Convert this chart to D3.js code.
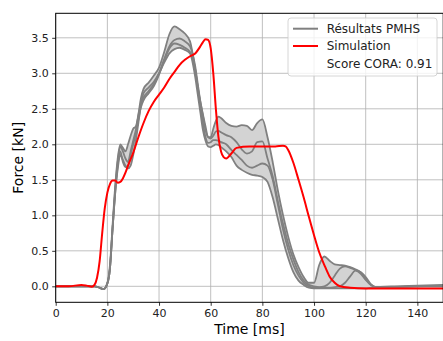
<!DOCTYPE html>
<html><head><meta charset="utf-8">
<script src="https://cdn.jsdelivr.net/npm/d3@7"></script>
<style>body{margin:0;background:#fff}svg{display:block;font-family:"DejaVu Sans",sans-serif}</style>
</head><body><svg id="c" width="443" height="341"></svg>
<script>
// ---- data ----
const pmhsTime = [0,10,15,17,18.5,20,21,22,23,24,25,26,27,28,29,30,31,32,33,34,36,38,40,42,44,46,48,50,52,54,55,56,57,58,59,60,61,62,63,64,66,68,70,72,74,76,78,80,82,84,86,88,90,92,94,96,98,100,102,104,106,108,110,112,114,116,118,120,122,124,130,140,150];
const pmhsA = [0,0,0,-0.02,-0.04,0.05,0.3,0.85,1.4,1.8,2.0,1.95,1.9,2.0,2.12,2.22,2.25,2.42,2.65,2.78,2.87,2.97,3.08,3.3,3.55,3.66,3.62,3.56,3.45,3.05,2.8,2.6,2.42,2.25,2.1,2.1,2.22,2.33,2.39,2.37,2.3,2.26,2.25,2.27,2.26,2.2,2.3,2.35,2.1,1.75,1.35,1.0,0.7,0.45,0.27,0.13,0.05,0.05,0.3,0.42,0.36,0.31,0.3,0.29,0.27,0.24,0.2,0.1,0.02,-0.01,-0.01,0,0.01];
const pmhsB = [0,0,0,-0.02,-0.04,0.04,0.25,0.8,1.35,1.75,1.97,1.9,1.8,1.75,1.9,2.05,2.2,2.4,2.58,2.66,2.75,2.85,3.0,3.2,3.38,3.47,3.49,3.45,3.38,3.1,2.85,2.6,2.4,2.2,2.1,2.08,2.12,2.18,2.19,2.17,2.13,2.1,2.03,1.93,1.87,1.9,2.03,2.04,1.8,1.55,1.2,0.88,0.6,0.38,0.2,0.08,0.02,0,-0.01,0,0.05,0.15,0.25,0.28,0.26,0.23,0.18,0.09,0.02,-0.01,0,0.01,0.02];
const pmhsC = [0,0,0,-0.02,-0.04,0.04,0.25,0.8,1.3,1.7,1.9,1.75,1.68,1.7,1.85,2.0,2.15,2.35,2.52,2.62,2.72,2.82,2.98,3.18,3.35,3.42,3.4,3.36,3.3,3.05,2.8,2.55,2.3,2.1,2.02,2.03,2.06,2.06,2.05,2.03,2.0,1.92,1.85,1.78,1.7,1.67,1.7,1.73,1.7,1.5,1.15,0.8,0.52,0.3,0.15,0.05,0,-0.02,-0.02,-0.02,-0.02,-0.01,0,0.05,0.14,0.22,0.2,0.13,0.03,-0.01,-0.01,0,0];
const pmhsD = [0,0,0,-0.02,-0.04,0.04,0.25,0.8,1.3,1.65,1.85,1.78,1.7,1.66,1.7,1.85,2.05,2.3,2.55,2.72,2.8,2.88,3.0,3.15,3.28,3.34,3.36,3.33,3.28,2.95,2.7,2.45,2.2,2.05,1.97,1.96,1.98,2.0,1.99,1.96,1.9,1.82,1.7,1.64,1.6,1.57,1.56,1.54,1.47,1.25,0.95,0.65,0.4,0.2,0.08,0.02,-0.02,-0.03,-0.03,-0.03,-0.03,-0.03,-0.03,-0.03,-0.03,-0.03,-0.03,-0.03,-0.02,-0.02,-0.01,0,0];
const simTime = [0,5,10,12,14,15,16,17,18,19,20,21,22,23,24,25,26,27,28,30,32,34,36,38,40,42,44,46,48,50,52,54,56,57,58,59,60,61,62,63,64,65,66,68,70,75,80,85,88,89,90,92,94,96,98,100,102,104,106,108,110,114,120,130,150];
const simForce = [0,0,0.02,0.01,-0.005,0.02,0.12,0.35,0.75,1.1,1.32,1.44,1.49,1.49,1.46,1.47,1.52,1.6,1.7,1.88,2.1,2.3,2.47,2.6,2.7,2.8,2.92,3.02,3.12,3.19,3.24,3.28,3.38,3.44,3.48,3.47,3.35,3.0,2.5,2.1,1.9,1.82,1.8,1.87,1.95,1.97,1.97,1.97,1.98,1.97,1.92,1.74,1.5,1.25,0.98,0.72,0.48,0.3,0.14,0.05,0.0,-0.02,-0.03,-0.03,-0.03];
const xTicks = [0,20,40,60,80,100,120,140];
const yTicks = [0,0.5,1.0,1.5,2.0,2.5,3.0,3.5];
const legendLabels = ["Résultats PMHS","Simulation","Score CORA: 0.91"];

// ---- layout ----
const svg = d3.select("#c");
const L = 55.7, T = 13.3, R = 443.2, B = 302.3;
const x = d3.scaleLinear().domain([0,150]).range([L,R]);
const y = d3.scaleLinear().domain([-0.225,3.845]).range([B,T]);

svg.append("defs").append("clipPath").attr("id","clip")
  .append("rect").attr("x",L).attr("y",T).attr("width",R-L).attr("height",B-T);

// grid
const g = svg.append("g");
g.selectAll(".gx").data(xTicks).join("line")
  .attr("x1",d=>x(d)).attr("x2",d=>x(d)).attr("y1",T).attr("y2",B)
  .attr("stroke","#b0b0b0").attr("stroke-width",0.8);
g.selectAll(".gy").data(yTicks).join("line")
  .attr("x1",L).attr("x2",R).attr("y1",d=>y(d)).attr("y2",d=>y(d))
  .attr("stroke","#b0b0b0").attr("stroke-width",0.8);

const series = [pmhsA,pmhsB,pmhsC,pmhsD];
const plot = svg.append("g").attr("clip-path","url(#clip)");
const area = d3.area().curve(d3.curveMonotoneX)
  .x((d,i)=>x(pmhsTime[i]))
  .y0((d,i)=>y(d3.min(series,s=>s[i])))
  .y1((d,i)=>y(d3.max(series,s=>s[i])));
plot.append("path").datum(pmhsTime).attr("d",area).attr("fill","#d3d3d3");
const lineP = d3.line().curve(d3.curveMonotoneX).x((d,i)=>x(pmhsTime[i])).y(d=>y(d));
series.forEach(s=>{
  plot.append("path").datum(s).attr("d",lineP).attr("fill","none")
    .attr("stroke","#808080").attr("stroke-width",1.8);
});
const lineS = d3.line().curve(d3.curveMonotoneX).x((d,i)=>x(simTime[i])).y(d=>y(d));
plot.append("path").datum(simForce).attr("d",lineS).attr("fill","none")
  .attr("stroke","#ff0000").attr("stroke-width",2);

// axes
const ax = svg.append("g").attr("transform",`translate(0,${B})`)
  .call(d3.axisBottom(x).tickValues(xTicks).tickFormat(d3.format("d")).tickSizeOuter(0).tickSize(3.5).tickPadding(3.5));
const ay = svg.append("g").attr("transform",`translate(${L},0)`)
  .call(d3.axisLeft(y).tickValues(yTicks).tickFormat(d3.format(".1f")).tickSizeOuter(0).tickSize(3.5).tickPadding(3.5));
[ax,ay].forEach(a=>{
  a.select(".domain").remove();
  a.selectAll("text").attr("font-size",11).attr("fill","#222").attr("font-family","DejaVu Sans");
  a.selectAll("line").attr("stroke","#000").attr("stroke-width",0.8);
});
svg.append("rect").attr("x",L).attr("y",T).attr("width",R-L).attr("height",B-T)
  .attr("fill","none").attr("stroke","#000").attr("stroke-width",1);

svg.append("text").attr("x",(L+R)/2).attr("y",334).attr("text-anchor","middle")
  .attr("font-size",14).attr("fill","#000").text("Time [ms]");
svg.append("text").attr("transform",`translate(23,${(T+B)/2}) rotate(-90)`)
  .attr("text-anchor","middle").attr("font-size",14).attr("fill","#000").text("Force [kN]");

// legend
const lg = svg.append("g");
lg.append("rect").attr("x",288).attr("y",18).attr("width",149).attr("height",58).attr("rx",3)
  .attr("fill","#fff").attr("fill-opacity",0.8).attr("stroke","#cccccc").attr("stroke-width",0.8);
const lcol = ["#808080","#ff0000",null];
legendLabels.forEach((t,i)=>{
  const yy = 28.7 + i*17.3;
  if (lcol[i]) lg.append("line").attr("x1",293).attr("x2",318).attr("y1",yy).attr("y2",yy)
    .attr("stroke",lcol[i]).attr("stroke-width",2);
  lg.append("text").attr("x",326.7).attr("y",yy).attr("dy","0.36em")
    .attr("font-size",12).attr("fill","#222").text(t);
});
</script></body></html>
